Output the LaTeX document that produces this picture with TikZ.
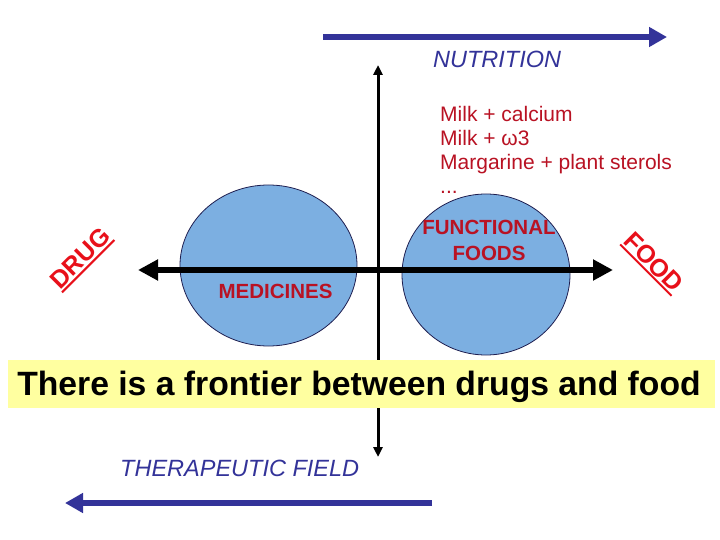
\documentclass[tikz,border=0pt]{standalone}
\usepackage{fontspec}
\setmainfont{Liberation Sans}
\usetikzlibrary{arrows.meta,shapes.geometric}
\definecolor{navy}{RGB}{51,51,153}
\definecolor{darkred}{RGB}{185,18,35}
\definecolor{brightred}{RGB}{232,16,26}
\definecolor{blobblue}{RGB}{124,175,225}
\definecolor{blobline}{RGB}{30,30,80}
\definecolor{boxyellow}{RGB}{255,255,160}
\begin{document}
\begin{tikzpicture}[x=1pt,y=-1pt]
\tikzset{
  lbl/.style={inner sep=0pt},
  milk/.style={lbl, anchor=base west, text=darkred, font=\fontsize{21}{25}\selectfont},
  boldred/.style={lbl, anchor=base, text=darkred, font=\bfseries\fontsize{20.5}{25}\selectfont},
  field/.style={lbl, anchor=base west, text=navy, font=\itshape\fontsize{23.5}{28}\selectfont},
  blob/.style={ellipse, draw=blobline, line width=0.8pt, fill=blobblue, inner sep=0pt},
  hax/.style={black, line width=5.5pt, {Triangle[length=20pt,width=20pt]}-{Triangle[length=20pt,width=20pt]}},
  vax/.style={black, line width=3pt, {Triangle[length=10pt,width=9pt]}-{Triangle[length=10pt,width=9pt]}},
  bigarrow/.style={navy, line width=6pt, -{Triangle[length=18pt,width=19pt]}},
  slanted/.style={text=brightred, font=\bfseries\fontsize{25}{30}\selectfont, inner xsep=0pt, inner ysep=2.5pt},
  ul/.style={brightred, line width=2pt}
}
\useasboundingbox (0,0) rectangle (720,540);
\fill[white] (0,0) rectangle (720,540);

% top and bottom field arrows
\coordinate (ntA) at (323,37);
\coordinate (ntB) at (667,37);
\draw[bigarrow] (ntA) -- (ntB);
\node[field] (nutri) at (433,68) {NUTRITION};

\coordinate (thA) at (432,503);
\coordinate (thB) at (65,503);
\draw[bigarrow] (thA) -- (thB);
\node[field] (thera) at (120,476) {THERAPEUTIC FIELD};

% circles
\node[blob, minimum width=177pt, minimum height=161pt] (med) at (268.5,265.5) {};
\node[blob, minimum width=168pt, minimum height=161pt] (ff) at (486,274.5) {};

% axes
\coordinate (axL) at (138,270);
\coordinate (axR) at (613,270);
\coordinate (axT) at (378,65);
\coordinate (axB) at (378,457);
\draw[vax] (axT) -- (axB);
\draw[hax] (axL) -- (axR);

% texts
\node[milk] (m1) at (440,122) {Milk + calcium};
\node[milk] (m2) at (440,146) {Milk + ω3};
\node[milk] (m3) at (440,170) {Margarine + plant sterols};
\node[milk] (m4) at (440,194) {...};

\node[boldred] (fun1) at (489,235) {FUNCTIONAL};
\node[boldred] (fun2) at (489,260) {FOODS};
\node[boldred] (medt) at (275.5,298) {MEDICINES};

\node[slanted, rotate=45] (drug) at (80,258) {DRUG};
\draw[ul] (drug.south west) -- (drug.south east);
\node[slanted, rotate=-45] (food) at (654,262) {FOOD};
\draw[ul] (food.south west) -- (food.south east);

% frontier box
\node[fill=boxyellow, minimum width=707pt, minimum height=48pt, inner sep=0pt, anchor=north west] (box) at (8,360) {};
\node[lbl, anchor=base, font=\bfseries\fontsize{33.7}{40}\selectfont] (boxtxt) at (359,395) {There is a frontier between drugs and food};
\end{tikzpicture}
\end{document}
